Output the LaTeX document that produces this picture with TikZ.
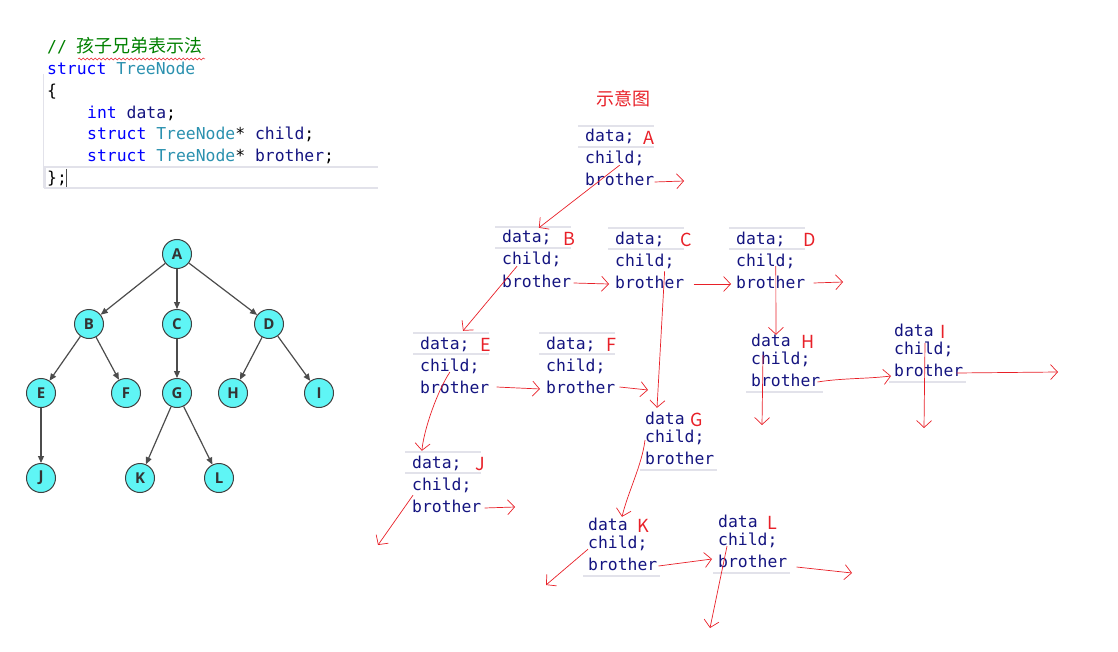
\documentclass[tikz,border=0pt]{standalone}
\usepackage{fontspec}
\usetikzlibrary{arrows.meta, decorations.pathmorphing}
\newfontfamily\codefont{DejaVu Sans Mono}
\newfontfamily\cjk{Noto Sans CJK SC}
\newfontfamily\treefont{Open Sans}
\newcommand\codesize{\fontsize{16.4pt}{20pt}\selectfont}
\definecolor{cmtGreen}{RGB}{0,128,0}
\definecolor{kwBlue}{RGB}{0,0,255}
\definecolor{typeTeal}{RGB}{43,145,175}
\definecolor{codeNavy}{RGB}{20,20,128}
\definecolor{tagRed}{RGB}{232,32,40}
\definecolor{treeCyan}{RGB}{95,245,245}
\definecolor{lineGrey}{RGB}{226,226,234}
\tikzset{
	code/.style={font=\codefont\codesize, inner sep=0pt, text height=11pt, text depth=3pt, anchor=west, yshift=-2pt},
	field/.style={code, text=codeNavy},
	tag/.style={font=\cjk\fontsize{18pt}{20pt}\selectfont, text=tagRed, inner sep=0pt, anchor=west, yshift=-2pt},
	sepline/.style={draw=lineGrey, line width=1.6pt},
	ptr/.style={-{Straight Barb[length=7pt,width=15pt]}, draw=tagRed, line width=0.7pt},
	tnode/.style={circle, draw=black!75, line width=1pt, fill=treeCyan, minimum size=29pt,
		inner sep=0pt, font=\treefont\bfseries\fontsize{15pt}{17pt}\selectfont, text=black!80},
	tarr/.style={-{Triangle[length=7pt,width=6pt]}, draw=black!70, line width=1.2pt}
}
\begin{document}
\begin{tikzpicture}[x=1pt, y=-1pt]
	\useasboundingbox (0,0) rectangle (1118,652);
	\draw[draw=lineGrey, line width=1pt] (43,74) -- (43,188);
	\draw[draw=lineGrey, line width=1.2pt] (378,167) -- (45,167) -- (45,188) -- (378,188);
	\node[code] (cmt) at (47,47) {\textcolor{cmtGreen}{// {\cjk\fontsize{18pt}{20pt}\selectfont 孩子兄弟表示法}}};
	\draw[tagRed, line width=0.5pt, decorate, decoration={snake, segment length=4pt, amplitude=1pt}] (78,59) -- (205,59);
	\node[code] (l1) at (47,69) {\textcolor{kwBlue}{struct} \textcolor{typeTeal}{TreeNode}};
	\node[code] (l2) at (47,91) {\{};
	\node[code] (l3) at (87,113) {\textcolor{kwBlue}{int} \textcolor{codeNavy}{data};};
	\node[code] (l4) at (87,134) {\textcolor{kwBlue}{struct} \textcolor{typeTeal}{TreeNode}* \textcolor{codeNavy}{child};};
	\node[code] (l5) at (87,156) {\textcolor{kwBlue}{struct} \textcolor{typeTeal}{TreeNode}* \textcolor{codeNavy}{brother};};
	\node[code] (l6) at (47,178) {\};};
	\draw[black!70, line width=0.8pt] (66,169) -- (66,187);

	\node[tnode] (A) at (177,254) {A};
	\node[tnode] (B) at (89,324) {B};
	\node[tnode] (C) at (177,324) {C};
	\node[tnode] (D) at (269,324) {D};
	\node[tnode] (E) at (41,393) {E};
	\node[tnode] (F) at (126,393) {F};
	\node[tnode] (G) at (177,393) {G};
	\node[tnode] (H) at (233,393) {H};
	\node[tnode] (I) at (319,393) {I};
	\node[tnode] (J) at (41,478) {J};
	\node[tnode] (K) at (140,478) {K};
	\node[tnode] (L) at (219,478) {L};
	\foreach \a/\b in {A/B, A/C, A/D, B/E, B/F, C/G, D/H, D/I, E/J, G/K, G/L}
		\draw[tarr] (\a) -- (\b);

	\node[font=\cjk\fontsize{18pt}{20pt}\selectfont, text=tagRed] (title) at (623,99) {示意图};
	\foreach \n/\x/\y/\g/\dt/\lx in {A/585/136/22/data;/58, B/502/237/22/data;/61, C/615/238/22/data;/65,
			D/736/238/22/data;/67, E/420/343/22/data;/60, F/546/343/22/data;/60, J/412/462/22/data;/63,
			G/645/418/18/data/45, H/751/340/18/data/50, I/894/330/18/data/46, K/588/524/18/data/49,
			L/718/521/18/data/49}{
		\ifnum\g=22
			\draw[sepline] (\x-7,\y-10) -- (\x+69,\y-10) (\x-7,\y+11) -- (\x+69,\y+11);
		\else
			\draw[sepline] (\x-5,\y+\g+34) -- (\x+72,\y+\g+34);
		\fi
		\node[field] (d\n) at (\x,\y) {\dt};
		\node[field] (c\n) at (\x,\y+\g) {child;};
		\node[field] (b\n) at (\x,\y+\g+22) {brother};
		\node[tag] (l\n) at (\x+\lx,\y) {\n};
	}
	\coordinate (nA) at (684,181);
	\coordinate (nD) at (843,282);
	\coordinate (nF) at (648,390);
	\coordinate (nJc) at (378,545);
	\coordinate (nJb) at (515,507);
	\coordinate (nKc) at (546,585);
	\coordinate (nLc) at (710,628);
	\coordinate (nLb) at (852,573);
	\coordinate (nHc) at (762,425);
	\coordinate (nIc) at (924,428);
	\coordinate (nIb) at (1058,372);

	\draw[ptr] ([shift={(-25,-2)}]cA.south east) -- ([shift={(12,-4)}]dB.north);
	\draw[ptr] (bA.east) -- (nA);
	\draw[ptr] ([shift={(15,-2)}]cB.south west) -- ([shift={(43,-7)}]dE.north west);
	\draw[ptr] ([shift={(2,0)}]bB.east) -- ([shift={(-6,0)}]bC.west);
	\draw[ptr] ([shift={(9,0)}]bC.east) -- ([shift={(-5,0)}]bD.west);
	\draw[ptr] ([shift={(8,-1)}]bD.east) -- (nD);
	\draw[ptr] ([shift={(-10,2)}]cC.south east) -- ([shift={(12,-5)}]dG.north west);
	\draw[ptr] ([shift={(10,-3)}]cD.south) -- ([shift={(5,0)}]dH.north);
	\draw[ptr] ([shift={(0,-2)}]cE.south) .. controls +(-12,18) and +(2,-22) .. ([shift={(-15,-6)}]dJ.north);
	\draw[ptr] ([shift={(7,-2)}]bE.east) -- ([shift={(-6,0)}]bF.west);
	\draw[ptr] ([shift={(4,-2)}]bF.east) -- (nF);
	\draw[ptr] ([shift={(1,2)}]cJ.south west) -- (nJc);
	\draw[ptr] ([shift={(3,0)}]bJ.east) -- (nJb);
	\draw[ptr] ([shift={(0,2)}]cG.west) .. controls +(-3,25) and +(6,-25) .. ([shift={(34,-2)}]dK.north west);
	\draw[ptr] ([shift={(0,-2)}]cK.south west) -- (nKc);
	\draw[ptr] ([shift={(1,0)}]bK.east) -- ([shift={(-6,-4)}]bL.west);
	\draw[ptr] ([shift={(9,-2)}]cL.south west) -- (nLc);
	\draw[ptr] ([shift={(9,4)}]bL.east) -- (nLb);
	\draw[ptr] ([shift={(12,-5)}]cH.west) -- (nHc);
	\draw[ptr] ([shift={(-3,0)}]bH.east) .. controls +(25,-4) and +(-25,3) .. ([shift={(-3,4)}]bI.west);
	\draw[ptr] ([shift={(31,-7)}]cI.west) -- (nIc);
	\draw[ptr] ([shift={(-7,1)}]bI.east) -- (nIb);
\end{tikzpicture}
\end{document}
